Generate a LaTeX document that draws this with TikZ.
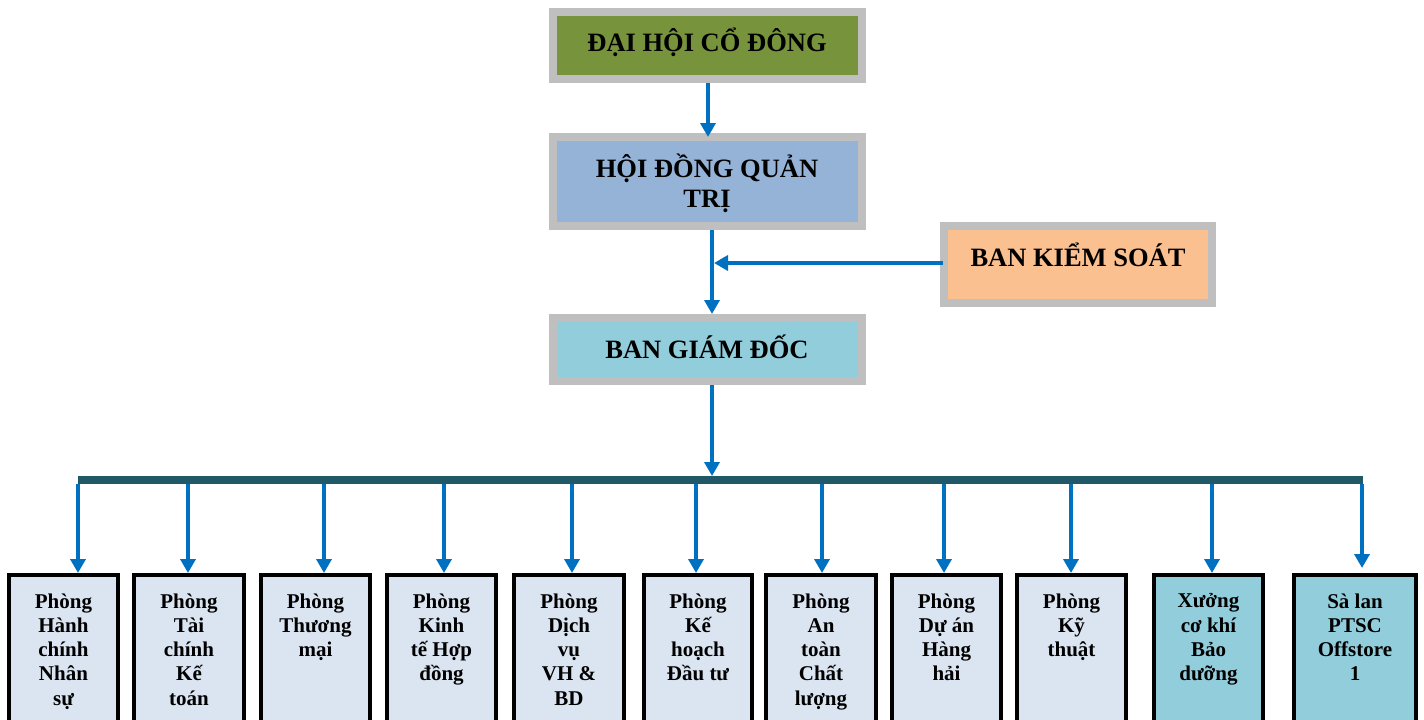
\documentclass[tikz,border=0pt]{standalone}
\usepackage{fontspec}
\setmainfont{Liberation Serif}
\usetikzlibrary{arrows.meta}
\definecolor{gborder}{HTML}{BFBFBF}
\definecolor{olivefill}{HTML}{77933C}
\definecolor{bluefill}{HTML}{95B3D7}
\definecolor{peachfill}{HTML}{FAC090}
\definecolor{aquafill}{HTML}{92CDDC}
\definecolor{lightfill}{HTML}{DBE5F1}
\definecolor{arrowblue}{HTML}{0070C0}
\definecolor{busteal}{HTML}{215868}
\tikzset{
  topbox/.style={draw=gborder, line width=8pt, rectangle, inner sep=0pt, align=center,
    font=\fontsize{26.5}{30}\selectfont\bfseries},
  toptext/.style={inner sep=0pt, align=center, font=\fontsize{26.5}{30}\selectfont\bfseries},
  deptbox/.style={draw=black, line width=4pt, rectangle, inner sep=0pt, anchor=north, minimum height=170pt},
  depttext/.style={anchor=north, align=center, inner sep=0pt,
    font=\fontsize{21}{24.2}\selectfont\bfseries, execute at begin node=\strut},
  arr/.style={draw=arrowblue, line width=4pt, -{Triangle[length=14pt,width=15pt]}},
  bus/.style={draw=busteal, line width=8pt}
}
\begin{document}
\begin{tikzpicture}[x=1pt,y=-1pt]
\useasboundingbox (0,0) rectangle (1424,720);
\clip (0,0) rectangle (1424,720);
% top boxes
\node[topbox, fill=olivefill, minimum width=309pt, minimum height=67pt] (dhcd) at (707,45.5) {};
\node[toptext] (dhcdtext) at (707,42.5) {ĐẠI HỘI CỔ ĐÔNG};
\node[topbox, fill=bluefill, minimum width=309pt, minimum height=89pt] (hdqt) at (707,181.5) {};
\node[toptext] (hdqttext) at (707,183) {HỘI ĐỒNG QUẢN\\TRỊ};
\node[topbox, fill=peachfill, minimum width=268pt, minimum height=77pt] (bks) at (1078,264.5) {};
\node[toptext] (bkstext) at (1078,255) {BAN KIỂM SOÁT};
\node[topbox, fill=aquafill, minimum width=309pt, minimum height=63pt] (bgd) at (707,349.5) {};
\node[toptext] (bgdtext) at (707,346.5) {BAN GIÁM ĐỐC};
% connectors top
\draw[arr] (708,83) -- (708,137);
\coordinate (hdqtb) at (712,230);
\coordinate (bgdt) at (712,314);
\coordinate (j) at (712,263);
\draw[arrowblue, line width=4pt] (hdqtb) -- (j);
\draw[arr] (j) -- (bgdt);
\draw[arr] ([xshift=3pt,yshift=1.5pt]bks.west) -- ([xshift=2pt]j);
% bus
\coordinate (busL) at (78,480);
\coordinate (busR) at (1363,480);
\coordinate (busC) at (712,476);
\draw[bus] (busL) -- (busR);
\draw[arr] (712,385) -- (busC);
% department boxes
\node[deptbox, fill=lightfill, minimum width=109pt] (d1) at (63.5,573) {};
\node[deptbox, fill=lightfill, minimum width=110pt] (d2) at (189,573) {};
\node[deptbox, fill=lightfill, minimum width=109pt] (d3) at (315.5,573) {};
\node[deptbox, fill=lightfill, minimum width=109pt] (d4) at (441.5,573) {};
\node[deptbox, fill=lightfill, minimum width=110pt] (d5) at (569,573) {};
\node[deptbox, fill=lightfill, minimum width=108pt] (d6) at (698,573) {};
\node[deptbox, fill=lightfill, minimum width=110pt] (d7) at (821,573) {};
\node[deptbox, fill=lightfill, minimum width=109pt] (d8) at (946.5,573) {};
\node[deptbox, fill=lightfill, minimum width=109pt] (d9) at (1071.5,573) {};
\node[deptbox, fill=aquafill, minimum width=109pt] (d10) at (1208.5,573) {};
\node[deptbox, fill=aquafill, minimum width=122pt] (d11) at (1355,573) {};
% texts
\node[depttext] (t1) at (63.5,593.5) {Phòng\\Hành\\chính\\Nhân\\sự};
\node[depttext] (t2) at (189,593.5) {Phòng\\Tài\\chính\\Kế\\toán};
\node[depttext] (t3) at (315.5,593.5) {Phòng\\Thương\\mại};
\node[depttext] (t4) at (441.5,593.5) {Phòng\\Kinh\\tế Hợp\\đồng};
\node[depttext] (t5) at (569,593.5) {Phòng\\Dịch\\vụ\\VH \&\\BD};
\node[depttext] (t6) at (698,593.5) {Phòng\\Kế\\hoạch\\Đầu tư};
\node[depttext] (t7) at (821,593.5) {Phòng\\An\\toàn\\Chất\\lượng};
\node[depttext] (t8) at (946.5,593.5) {Phòng\\Dự án\\Hàng\\hải};
\node[depttext] (t9) at (1071.5,593.5) {Phòng\\Kỹ\\thuật};
\node[depttext] (t10) at (1208.5,593.5) {Xưởng\\cơ khí\\Bảo\\dưỡng};
\node[depttext] (t11) at (1355,593.5) {Sà lan\\PTSC\\Offstore\\1};
% bus drops
\foreach \i/\x in {1/78,2/188,3/324,4/444,5/572,6/696,7/822,8/944,9/1071,10/1212}{
  \coordinate (b\i) at (\x,484);
  \draw[arr] (b\i) -- (b\i |- d\i.north);
}
\coordinate (b11) at (1362,484);
\draw[arr] (b11) -- ([yshift=5pt]b11 |- d11.north);
\end{tikzpicture}
\end{document}
